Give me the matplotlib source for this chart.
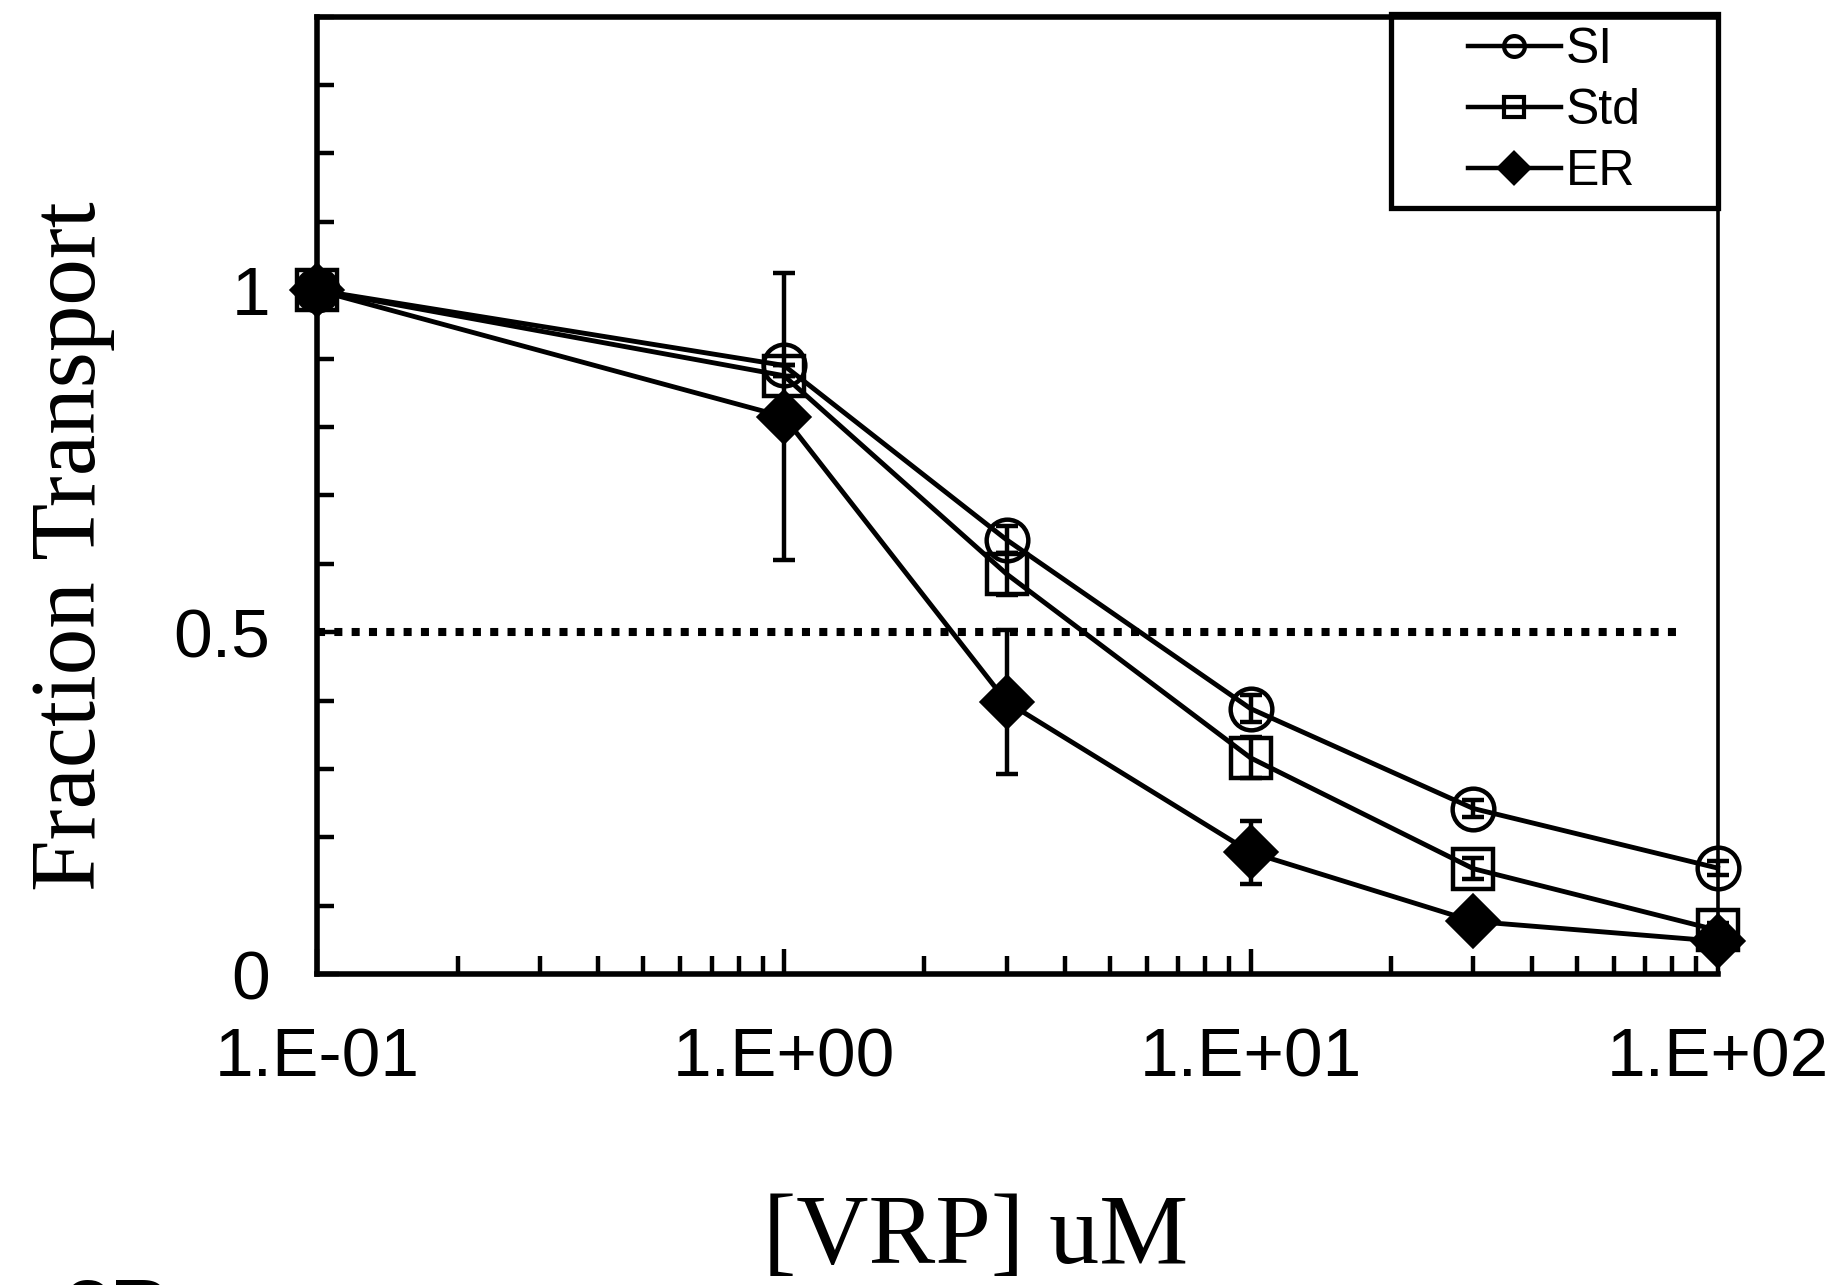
import matplotlib

matplotlib.use("Agg")
import matplotlib.pyplot as plt
from matplotlib.lines import Line2D
from matplotlib.patches import Rectangle
from matplotlib.ticker import FixedLocator, LogLocator, NullFormatter

# values
conc = [0.1, 1, 3, 10, 30, 100]
si = [1.0, 0.89, 0.635, 0.388, 0.242, 0.155]
si_err = [0, 0, 0.02, 0.02, 0.012, 0.01]
std = [1.0, 0.875, 0.585, 0.316, 0.154, 0.064]
std_err = [0, 0, 0.03, 0.03, 0.015, 0.01]
er = [1.0, 0.815, 0.398, 0.178, 0.077, 0.048]
er_err = [0, 0.21, 0.105, 0.046, 0, 0]

series = [("SI", si, si_err, "o", "none", 30),
          ("Std", std, std_err, "s", "none", 29),
          ("ER", er, er_err, "D", "black", 25)]

xtick_vals = [0.1, 1, 10, 100]
xtick_labels = ["1.E-01", "1.E+00", "1.E+01", "1.E+02"]
ytick_vals = [0, 0.5, 1]
ytick_labels = ["0", "0.5", "1"]

sans = "Liberation Sans"
serif = "Liberation Serif"

fig = plt.figure(figsize=(18.33, 12.85), dpi=100)
ax = fig.add_axes([0.173, 0.242, 0.764, 0.745])

for name, y, err, mk, fc, ms in series:
    ax.errorbar(conc, y, yerr=err, color="black", lw=3.5, marker=mk, ms=ms,
                mfc=fc, mec="black", mew=3.2, ecolor="black", elinewidth=3.2,
                capsize=8, capthick=3.2, clip_on=False, zorder=3)

ax.plot([0.1, 83], [0.5, 0.5], color="black", lw=5.8, ls=(0, (1.0, 1.15)),
        zorder=2)

ax.set_xscale("log")
ax.set_xlim(0.1, 100)
ax.set_ylim(0, 1.4)
ax.xaxis.set_major_locator(FixedLocator(xtick_vals))
ax.set_xticklabels(xtick_labels)
ax.xaxis.set_minor_locator(LogLocator(base=10, subs=range(2, 10)))
ax.xaxis.set_minor_formatter(NullFormatter())
ax.yaxis.set_major_locator(FixedLocator(ytick_vals))
ax.set_yticklabels(ytick_labels)
ax.yaxis.set_minor_locator(FixedLocator([i / 10 for i in range(15)]))

ax.tick_params(which="both", direction="in", width=3.2, colors="black")
ax.tick_params(axis="x", which="major", length=18, pad=38)
ax.tick_params(axis="x", which="minor", length=13)
ax.tick_params(axis="y", which="major", length=16, pad=34)
ax.tick_params(axis="y", which="minor", length=12)
for lab in ax.get_xticklabels() + ax.get_yticklabels():
    lab.set_fontfamily(sans)
    lab.set_fontsize(50)

for side in ["left", "bottom", "top"]:
    ax.spines[side].set_linewidth(4.0)
ax.spines["right"].set_linewidth(2.6)

ax.set_ylabel("Fraction Transport", fontfamily=serif, fontsize=67, labelpad=42,
              y=0.447)
ax.set_xlabel("[VRP] uM", fontfamily=serif, fontsize=72, labelpad=74, x=0.47)

# legend with a hand-drawn frame like the original
ax.add_patch(Rectangle((0.767, 0.80), 0.233, 0.203, transform=ax.transAxes,
                       fill=False, lw=3.8, ec="black", clip_on=False, zorder=5))
handles = [Line2D([], [], color="black", lw=3.2, marker=mk, ms=15, mfc=fc,
                  mec="black", mew=3.0) for _, _, _, mk, fc, _ in series]
labels = [s[0] for s in series]
ax.legend(handles, labels, loc="center", bbox_to_anchor=(0.767, 0.80, 0.233, 0.203),
          frameon=False, prop={"family": sans, "size": 36}, handlelength=1.85,
          handletextpad=0.1, labelspacing=0.3, borderpad=0.1)

fig.text(0.035, 0.006, "3B", fontfamily=sans, fontsize=60, fontweight="bold",
         va="top", ha="left")

fig.savefig("out.png", dpi=100)
